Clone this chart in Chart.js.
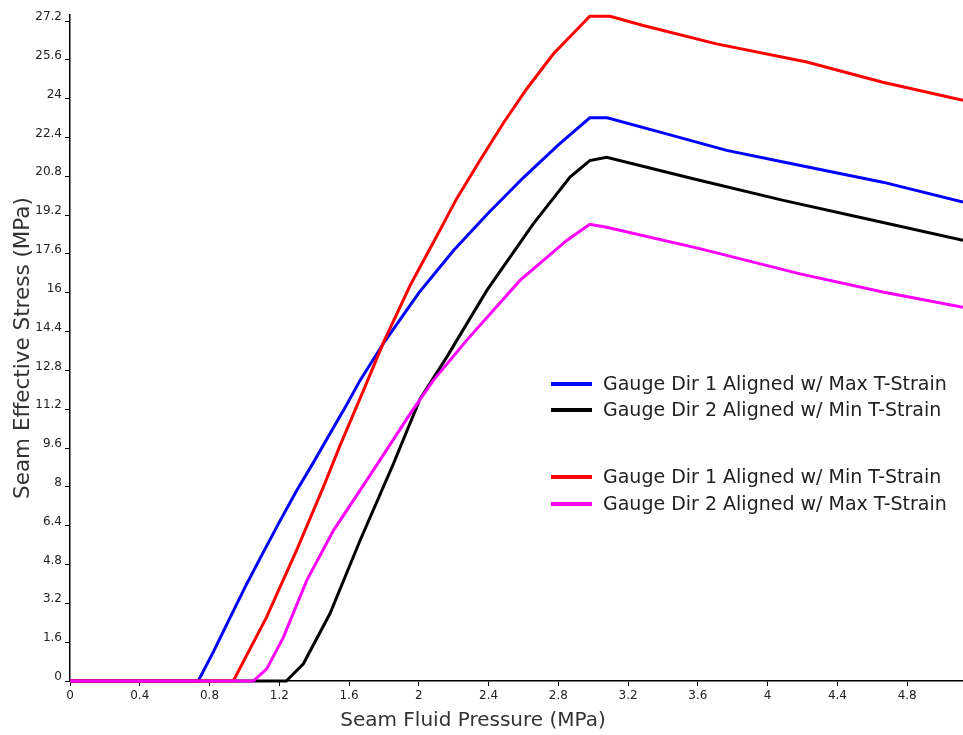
<!DOCTYPE html>
<html>
<head>
<meta charset="utf-8">
<script src="https://cdn.jsdelivr.net/npm/chart.js@4.4.1/dist/chart.umd.min.js"></script>
<style>
html,body{margin:0;padding:0;background:#ffffff;}
#wrap{width:963px;height:735px;position:relative;}
</style>
</head>
<body>
<div id="wrap"><canvas id="c"></canvas></div>
<script>
// ---- data ----
const seriesLabels = [
  'Gauge Dir 1 Aligned w/ Max T-Strain',
  'Gauge Dir 2 Aligned w/ Min T-Strain',
  'Gauge Dir 1 Aligned w/ Min T-Strain',
  'Gauge Dir 2 Aligned w/ Max T-Strain'
];
const seriesColors = ['#0000ff', '#000000', '#ff0000', '#ff00ff'];

const dir1MaxX = [0, 0.735, 0.822, 0.917, 1.013, 1.108, 1.204, 1.30, 1.395, 1.491, 1.587, 1.663, 1.80, 2.0, 2.2, 2.4, 2.6, 2.8, 2.98, 3.08, 3.42, 3.765, 4.09, 4.66, 5.12];
const dir1MaxY = [0, 0, 1.2, 2.6, 4.0, 5.3, 6.6, 7.85, 9.0, 10.2, 11.4, 12.39, 13.95, 16.0, 17.75, 19.3, 20.75, 22.1, 23.21, 23.21, 22.55, 21.87, 21.39, 20.56, 19.74];

const dir2MinX = [0, 1.24, 1.338, 1.49, 1.663, 1.854, 2.007, 2.16, 2.39, 2.657, 2.867, 2.98, 3.077, 3.573, 4.09, 4.565, 5.12];
const dir2MinY = [0, 0, 0.71, 2.77, 5.79, 8.95, 11.63, 13.35, 16.1, 18.85, 20.77, 21.45, 21.59, 20.7, 19.81, 19.05, 18.16];

const dir1MinX = [0, 0.936, 1.125, 1.30, 1.453, 1.548, 1.69, 1.80, 1.95, 2.10, 2.217, 2.35, 2.485, 2.618, 2.772, 2.886, 2.98, 3.096, 3.287, 3.706, 4.224, 4.66, 5.12];
const dir1MinY = [0, 0, 2.6, 5.4, 8.0, 9.7, 12.1, 14.0, 16.3, 18.3, 19.88, 21.45, 23.0, 24.4, 25.85, 26.7, 27.4, 27.4, 27.02, 26.26, 25.51, 24.68, 23.93];

const dir2MaxX = [0, 1.051, 1.128, 1.223, 1.357, 1.51, 1.70, 1.95, 2.083, 2.274, 2.58, 2.848, 2.98, 3.077, 3.61, 4.186, 4.66, 5.12];
const dir2MaxY = [0, 0, 0.5, 1.8, 4.14, 6.2, 8.26, 11.01, 12.39, 14.04, 16.51, 18.16, 18.82, 18.7, 17.82, 16.78, 16.03, 15.4];

const xTicks = [0, 0.4, 0.8, 1.2, 1.6, 2, 2.4, 2.8, 3.2, 3.6, 4, 4.4, 4.8];
const yTicks = [0, 1.6, 3.2, 4.8, 6.4, 8, 9.6, 11.2, 12.8, 14.4, 16, 17.6, 19.2, 20.8, 22.4, 24, 25.6, 27.2];
const xTitle = 'Seam Fluid Pressure (MPa)';
const yTitle = 'Seam Effective Stress (MPa)';

// ---- build ----
const toPoints = (xs, ys) => xs.map((x, i) => ({x: x, y: ys[i]}));
const seriesPoints = [
  toPoints(dir1MaxX, dir1MaxY),
  toPoints(dir2MinX, dir2MinY),
  toPoints(dir1MinX, dir1MinY),
  toPoints(dir2MaxX, dir2MaxY)
];
const drawOrder = [3, 2, 1, 0];

const datasets = seriesLabels.map((lab, i) => ({
  label: lab,
  data: seriesPoints[i],
  borderColor: seriesColors[i],
  backgroundColor: seriesColors[i],
  borderWidth: 3,
  pointRadius: 0,
  showLine: true,
  tension: 0,
  fill: false,
  clip: false,
  order: drawOrder[i]
}));

const FONT = "'DejaVu Sans', 'Liberation Sans', sans-serif";
const fmt = v => String(Math.round(v * 10) / 10);

const legendPlugin = {
  id: 'insideLegend',
  afterDatasetsDraw(chart) {
    const ctx = chart.ctx;
    const rowsY = [384, 410, 477, 504];
    ctx.save();
    ctx.font = '19px ' + FONT;
    ctx.textBaseline = 'middle';
    ctx.textAlign = 'left';
    chart.data.datasets.forEach((ds, i) => {
      const y = rowsY[i];
      ctx.strokeStyle = ds.borderColor;
      ctx.lineWidth = 4;
      ctx.beginPath();
      ctx.moveTo(551, y);
      ctx.lineTo(592, y);
      ctx.stroke();
      ctx.fillStyle = '#222222';
      ctx.fillText(ds.label, 603, y + 1);
    });
    ctx.restore();
  }
};

const xTitlePlugin = {
  id: 'xTitle',
  afterDraw(chart) {
    const ctx = chart.ctx;
    ctx.save();
    ctx.font = '20px ' + FONT;
    ctx.fillStyle = '#333333';
    ctx.textAlign = 'center';
    ctx.textBaseline = 'middle';
    ctx.fillText(xTitle, 473, 721);
    ctx.restore();
  }
};

new Chart(document.getElementById('c'), {
  type: 'scatter',
  data: { datasets: datasets },
  options: {
    responsive: true,
    maintainAspectRatio: false,
    animation: false,
    layout: { padding: { top: 15, right: 0, bottom: 0, left: 0 } },
    plugins: {
      legend: { display: false },
      tooltip: { enabled: false }
    },
    scales: {
      x: {
        type: 'linear',
        position: 'bottom',
        min: 0,
        max: 5.12,
        border: { display: true, color: '#000000', width: 1.5 },
        grid: { display: true, drawOnChartArea: false, drawTicks: true, tickLength: 5, color: '#000000' },
        ticks: {
          autoSkip: false, maxRotation: 0, includeBounds: false,
          font: { family: FONT, size: 12 }, color: '#222222', padding: 3,
          callback: v => fmt(v)
        },
        afterBuildTicks: s => { s.ticks = xTicks.map(v => ({value: v})); },
        afterFit: s => { s.height = 54; }
      },
      y: {
        type: 'linear',
        min: 0,
        max: 27.45,
        border: { display: true, color: '#000000', width: 1.5 },
        grid: { display: true, drawOnChartArea: false, drawTicks: true, tickLength: 5, color: '#000000' },
        ticks: {
          autoSkip: false, includeBounds: false,
          font: { family: FONT, size: 12 }, color: '#222222', padding: 3, labelOffset: -4,
          callback: v => fmt(v)
        },
        title: {
          display: true, text: yTitle, color: '#333333',
          font: { family: FONT, size: 21.5 }, padding: { top: 11, bottom: 0 }
        },
        afterBuildTicks: s => { s.ticks = yTicks.map(v => ({value: v})); },
        afterFit: s => { s.width = 70; }
      }
    }
  },
  plugins: [legendPlugin, xTitlePlugin]
});
</script>
</body>
</html>
